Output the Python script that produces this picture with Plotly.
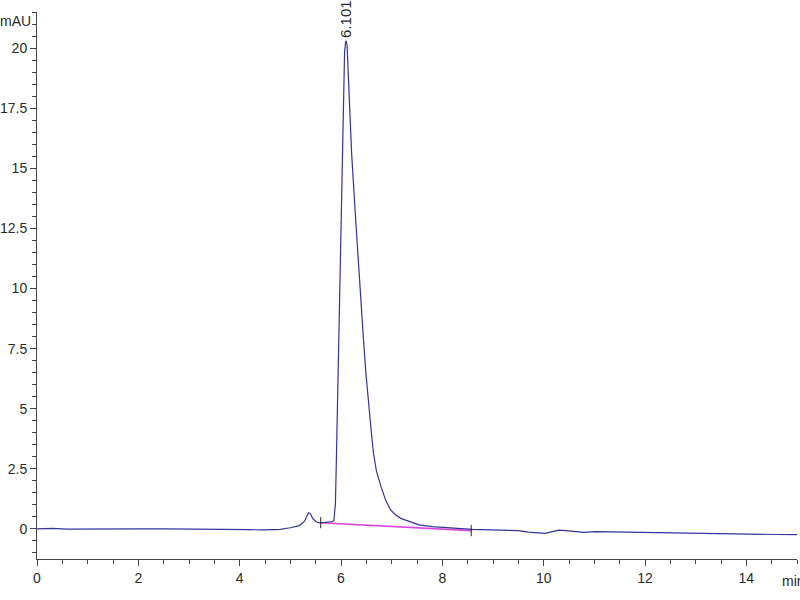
import plotly.graph_objects as go

# chromatogram trace (min, mAU)
time_min = [0.0, 0.3, 0.6, 1.0, 1.5, 2.0, 2.5, 3.0, 3.5, 3.9, 4.2, 4.5, 4.8, 5.0,
            5.1, 5.18, 5.28, 5.33, 5.36, 5.40, 5.44, 5.50, 5.55, 5.60, 5.70, 5.80,
            5.84, 5.86, 5.87, 5.89, 5.91, 5.93, 5.96, 5.98, 6.00, 6.03, 6.05, 6.07,
            6.09, 6.101, 6.12, 6.15, 6.21, 6.29, 6.35, 6.40, 6.44, 6.49, 6.54, 6.60,
            6.64, 6.70, 6.79, 6.88, 6.98, 7.08, 7.18, 7.35, 7.54, 7.8, 8.0, 8.3,
            8.6, 9.0, 9.3, 9.5, 9.7, 9.9, 10.03, 10.15, 10.3, 10.49, 10.65, 10.79,
            11.02, 11.5, 12.07, 12.6, 13.18, 13.7, 14.23, 14.6, 15.0]
signal_mau = [0.0, 0.02, -0.01, 0.0, 0.01, 0.0, 0.0, 0.0, 0.0, 0.0, -0.03, -0.04, -0.02, 0.05,
              0.1, 0.14, 0.32, 0.55, 0.68, 0.62, 0.44, 0.32, 0.26, 0.25, 0.27, 0.29,
              0.31, 0.35, 0.55, 1.07, 3.0, 5.24, 8.5, 10.4, 12.85, 15.6, 18.4, 19.8,
              20.25, 20.3, 20.1, 18.4, 15.6, 12.85, 10.77, 9.2, 8.0, 6.5, 5.24, 4.0,
              3.16, 2.4, 1.76, 1.2, 0.79, 0.58, 0.44, 0.3, 0.17, 0.10, 0.06, 0.02,
              -0.02, -0.05, -0.06, -0.07, -0.13, -0.16, -0.18, -0.12, -0.05, -0.08, -0.12, -0.14,
              -0.11, -0.13, -0.15, -0.17, -0.2, -0.21, -0.22, -0.23, -0.24]

# integration baseline
baseline_t = [5.60, 8.57]
baseline_v = [0.26, -0.07]

peak_rt = 6.101
peak_height = 20.3

font = "Liberation Sans, Arial"
text_color = '#2a2a2a'

fig = go.Figure()

fig.add_trace(go.Scatter(
    x=baseline_t, y=baseline_v,
    mode='lines',
    line=dict(color='#DD44DD', width=1.6),
    hoverinfo='skip'
))

fig.add_trace(go.Scatter(
    x=time_min, y=signal_mau,
    mode='lines',
    line=dict(color='#34349A', width=1.2),
    name='Signal'
))

# start / end marks of the integration
fig.add_trace(go.Scatter(
    x=baseline_t, y=baseline_v,
    mode='markers',
    marker=dict(symbol='line-ns-open', size=8, color='#222222',
                line=dict(color='#222222', width=1)),
    hoverinfo='skip'
))

fig.add_annotation(
    x=peak_rt, y=peak_height, text=f'{peak_rt:.3f}',
    showarrow=False, textangle=-90,
    xanchor='center', yanchor='bottom', yshift=1,
    font=dict(family=font, size=15, color=text_color)
)

fig.add_annotation(
    x=-0.005, y=1.0, xref='paper', yref='paper', text='mAU',
    xanchor='right', yanchor='middle', yshift=-9,
    showarrow=False, font=dict(family=font, size=14, color=text_color)
)

fig.add_annotation(
    x=14.66, y=-1.25, text='min', xanchor='left', yanchor='middle', yshift=-22,
    showarrow=False, font=dict(family=font, size=14, color=text_color)
)

axis_common = dict(
    showline=True, linecolor='#444444', linewidth=1,
    ticks='outside', ticklen=6, tickcolor='#444444', tickwidth=1,
    showgrid=False, zeroline=False, automargin=False,
    tickfont=dict(family=font, size=14, color=text_color),
)

fig.update_xaxes(range=[0, 15], dtick=2, tick0=0,
                 minor=dict(dtick=0.5, ticks='outside', ticklen=4, tickcolor='#444444'),
                 **axis_common)
fig.update_yaxes(range=[-1.25, 21.5], dtick=2.5, tick0=0,
                 minor=dict(dtick=0.5, ticks='outside', ticklen=4, tickcolor='#444444'),
                 **axis_common)

fig.update_layout(
    width=800, height=600,
    margin=dict(l=37, r=3, t=12, b=41, autoexpand=False),
    plot_bgcolor='white', paper_bgcolor='white',
    showlegend=False
)

# drop the default page margin so the chart sits at the window's corner
fig.write_html("out.html", config={'displayModeBar': False},
               post_script="document.body.style.margin='0';")
